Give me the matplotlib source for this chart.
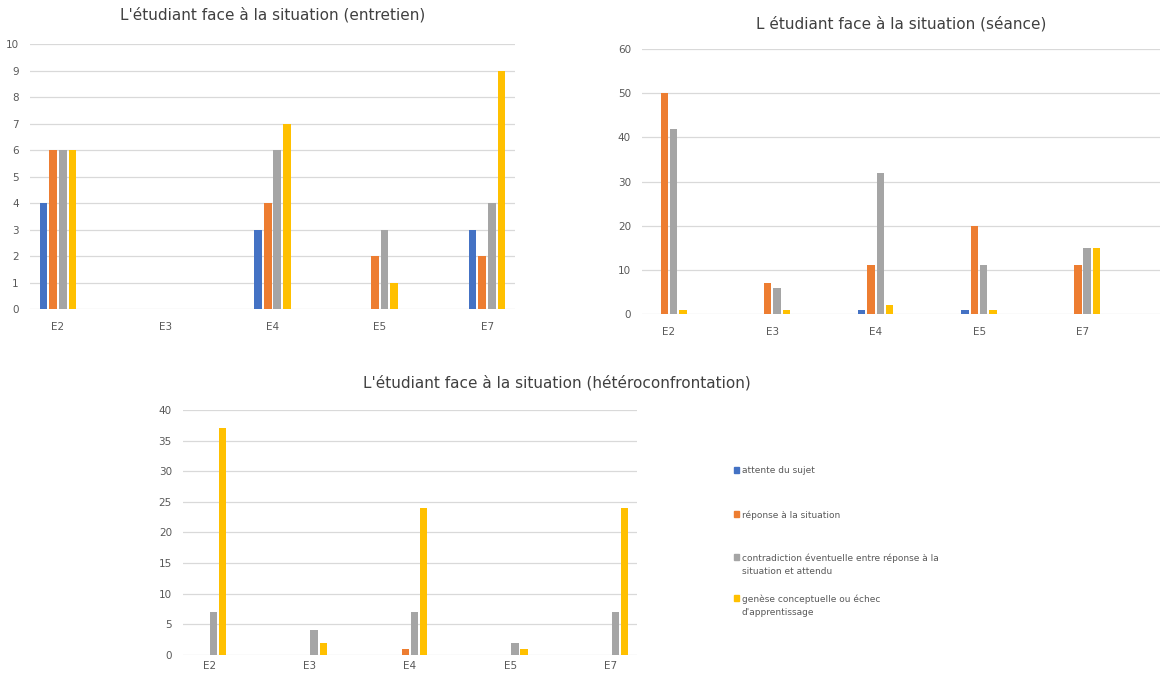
import numpy as np
import matplotlib
matplotlib.use("Agg")
import matplotlib.pyplot as plt
from matplotlib.patches import Rectangle

# data
eleves = ["E2", "E3", "E4", "E5", "E7"]
series = ["attente du sujet",
          "réponse à la situation",
          "contradiction éventuelle entre réponse à la\nsituation et attendu",
          "genèse conceptuelle ou échec\nd'apprentissage"]
couleurs = ["#4472C4", "#ED7D31", "#A5A5A5", "#FFC000"]

entretien_attente = [4, 0, 3, 0, 3]
entretien_reponse = [6, 0, 4, 2, 2]
entretien_contradiction = [6, 0, 6, 3, 4]
entretien_genese = [6, 0, 7, 1, 9]

seance_attente = [0, 0, 1, 1, 0]
seance_reponse = [50, 7, 11, 20, 11]
seance_contradiction = [42, 6, 32, 11, 15]
seance_genese = [1, 1, 2, 1, 15]

hetero_attente = [0, 0, 0, 0, 0]
hetero_reponse = [0, 0, 1, 0, 0]
hetero_contradiction = [7, 4, 7, 2, 7]
hetero_genese = [37, 2, 24, 1, 24]

fig = plt.figure(figsize=(11.62, 6.74), dpi=100)
fig.patch.set_facecolor("white")

gris_txt = "#595959"
larg = 0.072
pas = 0.090


def barres(ax, valeurs, ymax, ystep, titre, xmax=4.26, xpad=9, tpad=18):
    x = np.arange(len(eleves))
    for k, (v, c) in enumerate(zip(valeurs, couleurs)):
        ax.bar(x + (k - 1.5) * pas, v, width=larg, color=c, zorder=3)
    ax.set_xlim(-0.26, xmax)
    ax.set_ylim(0, ymax)
    ax.set_yticks(np.arange(0, ymax + 1, ystep))
    ax.set_xticks(x)
    ax.set_xticklabels(eleves)
    ax.grid(axis="y", color="#D9D9D9", lw=0.9, zorder=0)
    ax.set_axisbelow(True)
    for s in ax.spines.values():
        s.set_visible(False)
    ax.tick_params(axis="both", length=0, colors=gris_txt, labelsize=7.5)
    ax.tick_params(axis="x", pad=xpad)
    ax.tick_params(axis="y", pad=8)
    ax.set_title(titre, fontsize=11, color="#404040", pad=tpad)


ax1 = fig.add_axes([0.0258, 0.5415, 0.4174, 0.3932])
barres(ax1, [entretien_attente, entretien_reponse, entretien_contradiction, entretien_genese],
       10, 1, "L'étudiant face à la situation (entretien)")

ax2 = fig.add_axes([0.5525, 0.5341, 0.4458, 0.3932])
barres(ax2, [seance_attente, seance_reponse, seance_contradiction, seance_genese],
       60, 10, "L étudiant face à la situation (séance)", xmax=4.75, tpad=15)

ax3 = fig.add_axes([0.1575, 0.0282, 0.3907, 0.3635])
barres(ax3, [hetero_attente, hetero_reponse, hetero_contradiction, hetero_genese],
       40, 5, "", xpad=4)
fig.text(0.479, 0.432, "L'étudiant face à la situation (hétéroconfrontation)",
         fontsize=11, color="#404040", ha="center", va="center")

# legende
leg_y = [470, 514, 557, 598]
for lab, c, py in zip(series, couleurs, leg_y):
    yf = 1 - py / 674
    fig.patches.append(Rectangle((734 / 1162, yf - 0.005), 0.0045, 0.0095,
                                 transform=fig.transFigure, color=c))
    fig.text(742 / 1162, yf + 0.0055, lab, fontsize=6.5, color=gris_txt,
             ha="left", va="top", linespacing=1.6)

fig.savefig("out.png", dpi=100)
